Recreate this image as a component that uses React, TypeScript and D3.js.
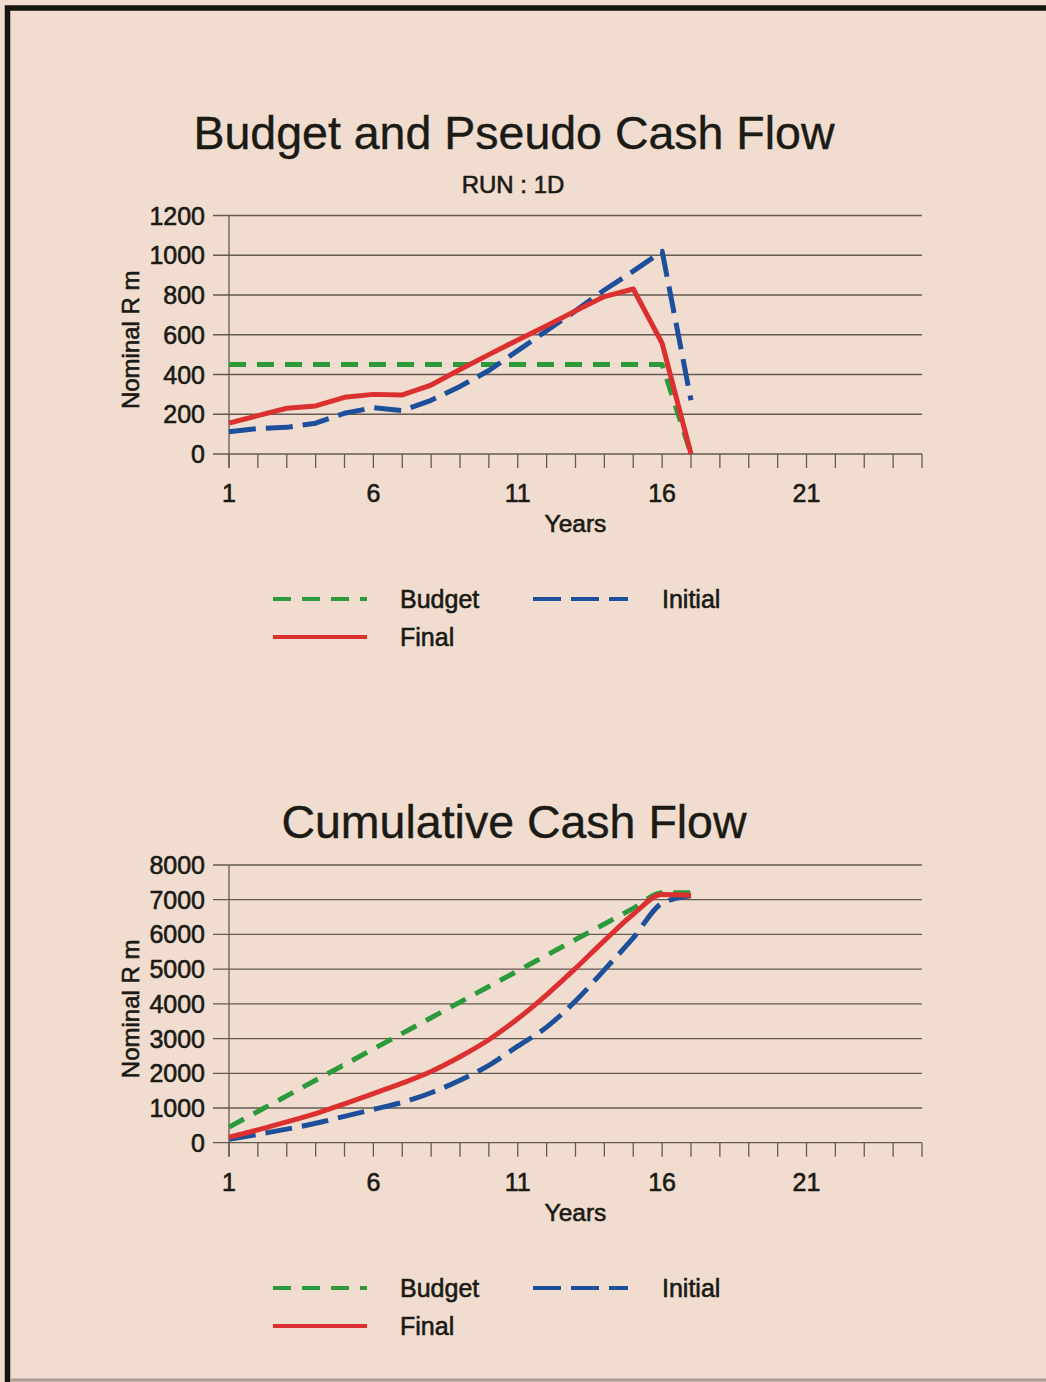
import React from 'react';
import * as d3 from 'd3';

// Project years plotted on both charts
const years = [1, 2, 3, 4, 5, 6, 7, 8, 9, 10, 11, 12, 13, 14, 15, 16, 17];
const xTickLabels = [1, 6, 11, 16, 21];
const xMinorTicks = [1, 2, 3, 4, 5, 6, 7, 8, 9, 10, 11, 12, 13, 14, 15, 16, 17, 18, 19, 20, 21, 22, 23, 24, 25];

// Annual cash flow (Nominal R m)
const budgetFlow = [450, 450, 450, 450, 450, 450, 450, 450, 450, 450, 450, 450, 450, 450, 450, 450, 0];
const initialFlow = [112, 128, 134, 155, 205, 233, 218, 270, 340, 420, 520, 620, 720, 825, 920, 1020, 270];
const finalFlow = [155, 193, 230, 242, 285, 300, 297, 347, 425, 500, 574, 645, 720, 792, 830, 557, 0];

// Cumulative cash flow (Nominal R m)
const budgetCum = [450, 900, 1350, 1800, 2250, 2700, 3150, 3600, 4050, 4500, 4950, 5400, 5850, 6300, 6750, 7200, 7200];
const initialCum = [100, 240, 390, 560, 760, 960, 1160, 1440, 1800, 2230, 2780, 3330, 4080, 4980, 5900, 6900, 7110];
const finalCum = [155, 370, 600, 840, 1120, 1415, 1715, 2050, 2475, 2965, 3570, 4260, 5020, 5820, 6580, 7150, 7130];

const flowTicks = [0, 200, 400, 600, 800, 1000, 1200];
const cumTicks = [0, 1000, 2000, 3000, 4000, 5000, 6000, 7000, 8000];

const BG = '#f0ddd0';
const INK = '#1b1a14';
const GRID = '#635a52';
const GREEN = '#2b9a3a';
const BLUE = '#1d4f9a';
const RED = '#dc3030';
const FONT = '"Liberation Sans", Arial, Helvetica, sans-serif';

const seriesStyle = {
  budget: { color: GREEN, dash: '17,11' },
  initial: { color: BLUE, dash: '27,10' },
  final: { color: RED, dash: undefined as string | undefined },
};

const xScale = d3.scaleLinear().domain([1, 25]).range([229, 922]);

type ChartProps = {
  title: string;
  subtitle?: string;
  titleY: number;
  yTop: number;
  yBase: number;
  yMax: number;
  ticks: number[];
  budget: number[];
  initial: number[];
  final: number[];
  smooth: boolean;
  legendY: number;
};

function Chart(p: ChartProps) {
  const y = d3.scaleLinear().domain([0, p.yMax]).range([p.yBase, p.yTop]);
  const line = d3
    .line<number>()
    .x((_, i) => xScale(years[i]))
    .y((d) => y(d))
    .curve(p.smooth ? d3.curveMonotoneX : d3.curveLinear);

  const series = [
    { key: 'budget', data: p.budget },
    { key: 'initial', data: p.initial },
    { key: 'final', data: p.final },
  ] as const;

  const midY = (p.yBase + p.yTop) / 2;

  return (
    <g fontFamily={FONT} fill={INK} stroke={INK} strokeWidth={0.6}>
      <text x={514} y={p.titleY} textAnchor="middle" fontSize={46.5} strokeWidth={0.4}>
        {p.title}
      </text>
      {p.subtitle && (
        <text x={513} y={p.titleY + 44} textAnchor="middle" fontSize={24}>
          {p.subtitle}
        </text>
      )}

      {/* horizontal gridlines, which also act as y ticks */}
      {p.ticks.map((t) => (
        <line key={'g' + t} x1={213} x2={922} y1={y(t)} y2={y(t)} stroke={GRID} strokeWidth={1.3} />
      ))}
      {/* y axis */}
      <line x1={xScale(1)} x2={xScale(1)} y1={p.yTop} y2={p.yBase + 14} stroke={GRID} strokeWidth={1.3} />
      {/* x ticks */}
      {xMinorTicks.map((t) => (
        <line key={'xt' + t} x1={xScale(t)} x2={xScale(t)} y1={p.yBase} y2={p.yBase + 14} stroke={GRID} strokeWidth={1.3} />
      ))}

      {p.ticks.map((t) => (
        <text key={'yl' + t} x={205} y={y(t) + 9} textAnchor="end" fontSize={25}>
          {t}
        </text>
      ))}
      {xTickLabels.map((t) => (
        <text key={'xl' + t} x={xScale(t)} y={p.yBase + 48} textAnchor="middle" fontSize={25}>
          {t}
        </text>
      ))}
      <text x={575.5} y={p.yBase + 78} textAnchor="middle" fontSize={24.5}>
        Years
      </text>
      <text
        transform={`translate(139,${midY + 5}) rotate(-90)`}
        textAnchor="middle"
        fontSize={24}
      >
        Nominal R m
      </text>

      {series.map((s) => (
        <path
          key={s.key}
          d={line(s.data as number[]) || ''}
          fill="none"
          stroke={seriesStyle[s.key].color}
          strokeWidth={5}
          strokeDasharray={seriesStyle[s.key].dash}
          strokeLinejoin="round"
        />
      ))}

      {/* legend */}
      <line x1={273} x2={367} y1={p.legendY} y2={p.legendY} stroke={GREEN} strokeWidth={4.2} strokeDasharray="18,11" />
      <text x={400} y={p.legendY + 9} fontSize={25}>Budget</text>
      <line x1={533} x2={628} y1={p.legendY} y2={p.legendY} stroke={BLUE} strokeWidth={4.2} strokeDasharray="28,10" />
      <text x={662} y={p.legendY + 9} fontSize={25}>Initial</text>
      <line x1={273} x2={367} y1={p.legendY + 38} y2={p.legendY + 38} stroke={RED} strokeWidth={4.2} />
      <text x={400} y={p.legendY + 47} fontSize={25}>Final</text>
    </g>
  );
}

export default function App() {
  return (
    <div style={{ position: 'absolute', left: 0, top: 0 }}>
      <svg width={1046} height={1382} style={{ display: 'block' }}>
        <rect x={0} y={0} width={1046} height={1382} fill={BG} />
        {/* page frame */}
        <path d="M7.5,1382 V8 H1046" fill="none" stroke="#15140f" strokeWidth={5.5} />
        <line x1={10} x2={1046} y1={1380} y2={1380} stroke="#a79c92" strokeWidth={3} />

        <Chart
          title="Budget and Pseudo Cash Flow"
          subtitle="RUN : 1D"
          titleY={149}
          yTop={215.5}
          yBase={454}
          yMax={1200}
          ticks={flowTicks}
          budget={budgetFlow}
          initial={initialFlow}
          final={finalFlow}
          smooth={false}
          legendY={599}
        />
        <Chart
          title="Cumulative Cash Flow"
          titleY={838}
          yTop={865}
          yBase={1142.7}
          yMax={8000}
          ticks={cumTicks}
          budget={budgetCum}
          initial={initialCum}
          final={finalCum}
          smooth={true}
          legendY={1288}
        />
      </svg>
    </div>
  );
}
